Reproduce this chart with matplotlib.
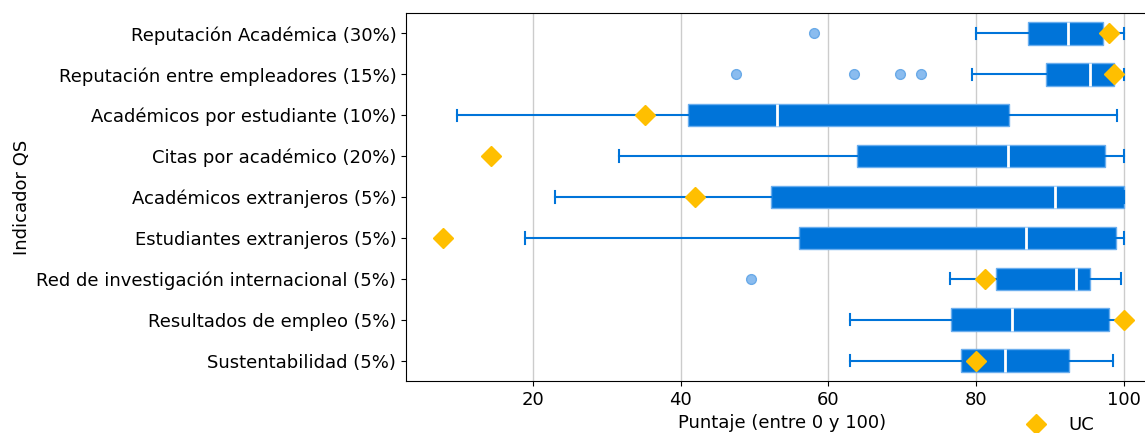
import numpy as np
import matplotlib.pyplot as plt

plt.rcParams["font.family"] = ["DejaVu Sans"]

# Indicadores QS (de arriba hacia abajo)
indicadores = [
    "Reputación Académica (30%)",
    "Reputación entre empleadores (15%)",
    "Académicos por estudiante (10%)",
    "Citas por académico (20%)",
    "Académicos extranjeros (5%)",
    "Estudiantes extranjeros (5%)",
    "Red de investigación internacional (5%)",
    "Resultados de empleo (5%)",
    "Sustentabilidad (5%)",
]

# Estadísticos de cada caja
bigote_inf = [80.0, 79.5, 9.7, 31.7, 23.0, 19.0, 76.4, 62.9, 62.9]
q1         = [87.0, 89.4, 41.0, 63.9, 52.3, 56.0, 82.7, 76.6, 77.9]
mediana    = [92.4, 95.4, 53.0, 84.3, 90.7, 86.8, 93.5, 84.8, 83.9]
q3         = [97.2, 98.6, 84.4, 97.4, 100.0, 98.9, 95.4, 98.0, 92.6]
bigote_sup = [100.0, 100.0, 99.0, 100.0, 100.0, 100.0, 99.6, 100.0, 98.5]
atipicos   = [[58.1], [47.5, 63.5, 69.7, 72.6], [], [], [], [], [49.5], [], []]

# Puntaje de la UC en cada indicador
uc = [98.0, 98.6, 35.2, 14.3, 42.0, 7.85, 81.2, 100.0, 80.0]

AZUL = "#0074D9"
ORO = "#FFBF00"

stats = []
for i, nombre in enumerate(indicadores):
    stats.append({
        "label": nombre,
        "whislo": bigote_inf[i],
        "q1": q1[i],
        "med": mediana[i],
        "q3": q3[i],
        "whishi": bigote_sup[i],
        "fliers": np.array(atipicos[i]),
    })

posiciones = np.arange(1, len(indicadores) + 1)

fig = plt.figure(figsize=(11.45, 4.33), dpi=100)
ax = fig.add_axes([406 / 1145, 1 - 381 / 433, (1158 - 406) / 1145, (381 - 13) / 433])

ax.bxp(stats, positions=posiciones, widths=0.55, orientation="horizontal",
       patch_artist=True,
       boxprops=dict(facecolor=AZUL, edgecolor="#6BAEEE", linewidth=1),
       medianprops=dict(color="white", linewidth=2),
       whiskerprops=dict(color=AZUL, linewidth=1.5),
       capprops=dict(color=AZUL, linewidth=1.5),
       flierprops=dict(marker="o", markersize=7, markerfacecolor="#8ABCEF",
                       markeredgecolor="#6AAAE8", linestyle="none"))

ax.plot(uc, posiciones, linestyle="none", marker="D", markersize=10,
        color=ORO, markeredgecolor=ORO, label="UC", zorder=5)

ax.set_xlim(2.85, 104.6)
ax.set_ylim(len(indicadores) + 0.5, 0.5)
ax.set_yticks(posiciones)
ax.set_yticklabels(indicadores)
ax.set_xticks([20, 40, 60, 80, 100])
ax.tick_params(labelsize=13)
ax.xaxis.grid(True, color="#CCCCCC", linewidth=1)
ax.set_axisbelow(True)
ax.set_xlabel("Puntaje (entre 0 y 100)", fontsize=13)
ax.set_ylabel("Indicador QS", fontsize=13)

fig.legend(loc="center left", bbox_to_anchor=(1018 / 1145, 1 - 425 / 433),
           frameon=False, borderpad=0, borderaxespad=0, fontsize=13)

fig.savefig("out.png", dpi=100)
